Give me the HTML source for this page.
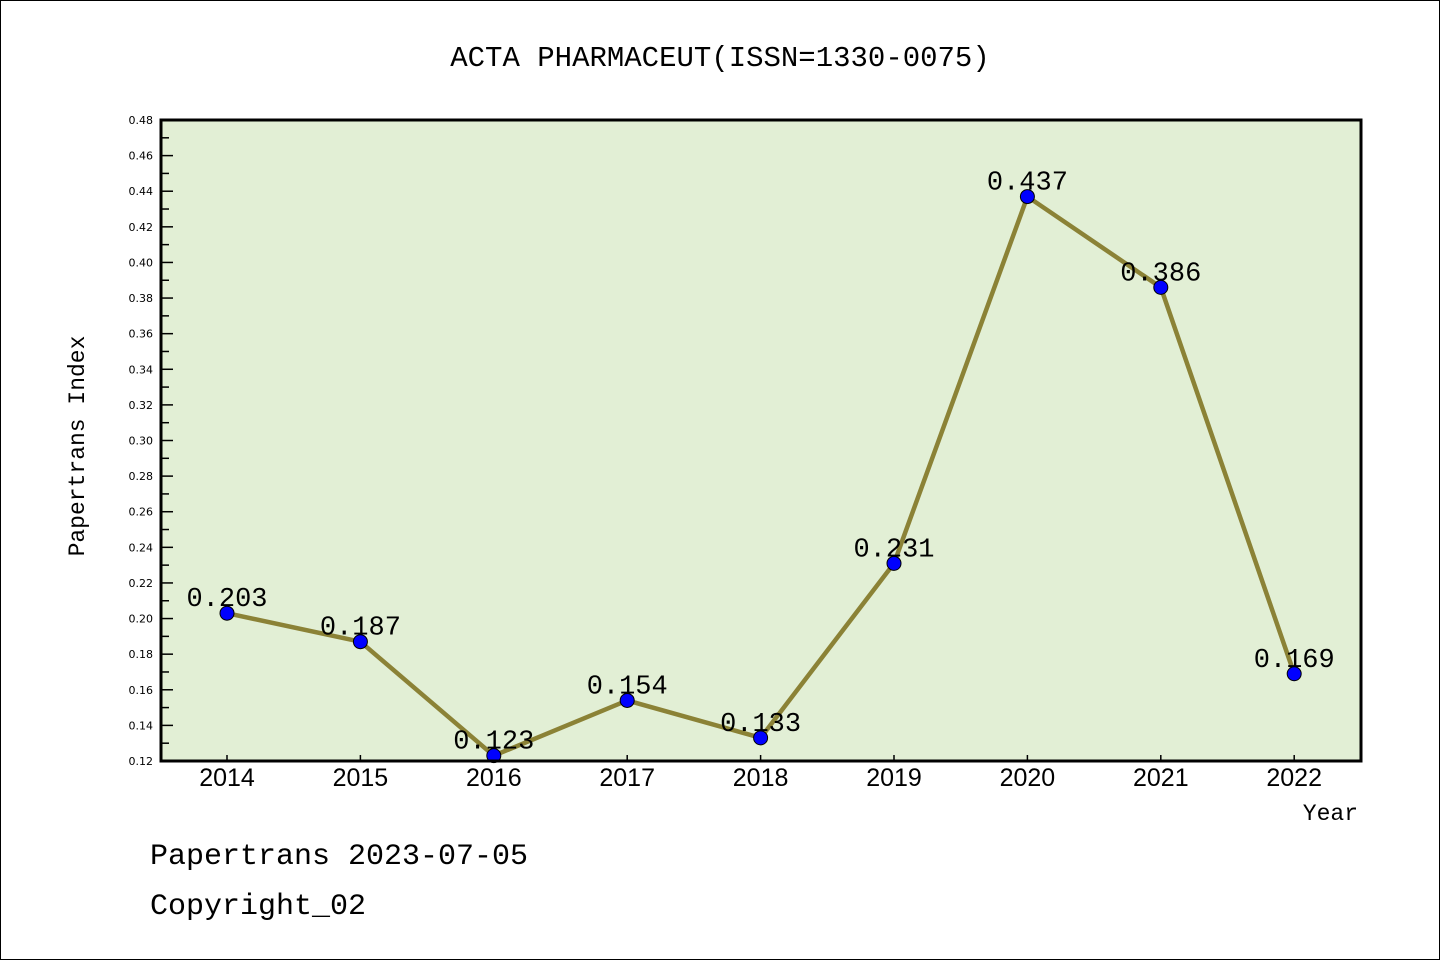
<!DOCTYPE html>
<html><head><meta charset="utf-8"><style>
html,body{margin:0;padding:0;background:#fff}
svg{display:block}
</style></head><body>
<svg id="c" width="1440" height="960" xmlns="http://www.w3.org/2000/svg">
<rect x="0.5" y="0.5" width="1439" height="959" fill="#fff" stroke="#000"/>
<text x="720" y="66" text-anchor="middle" font-family="'Liberation Mono','DejaVu Sans Mono',monospace" font-size="29">ACTA PHARMACEUT(ISSN=1330-0075)</text>
<rect x="161" y="120" width="1200" height="641" fill="#e2efd5"/>
<g id="yt"></g><g id="xt"></g><g id="ser"></g>
<rect x="161" y="120" width="1200" height="641" fill="none" stroke="#000" stroke-width="3"/>
<text transform="translate(84,446) rotate(-90)" text-anchor="middle" font-family="'Liberation Mono','DejaVu Sans Mono',monospace" font-size="23">Papertrans Index</text>
<text x="1358" y="820" text-anchor="end" font-family="'Liberation Mono','DejaVu Sans Mono',monospace" font-size="23">Year</text>
<text x="150" y="864" font-family="'Liberation Mono','DejaVu Sans Mono',monospace" font-size="30">Papertrans 2023-07-05</text>
<text x="150" y="914" font-family="'Liberation Mono','DejaVu Sans Mono',monospace" font-size="30">Copyright_02</text>
</svg>
<script>
const years=["2014","2015","2016","2017","2018","2019","2020","2021","2022"];
const values=[0.203,0.187,0.123,0.154,0.133,0.231,0.437,0.386,0.169];
const valueLabels=["0.203","0.187","0.123","0.154","0.133","0.231","0.437","0.386","0.169"];
const yTicks=["0.12","0.14","0.16","0.18","0.20","0.22","0.24","0.26","0.28","0.30","0.32","0.34","0.36","0.38","0.40","0.42","0.44","0.46","0.48"];
const NS="http://www.w3.org/2000/svg";
const yMin=0.12,yMax=0.48,plotTop=120,plotBot=761;
function ys(v){return plotBot-(v-yMin)/(yMax-yMin)*(plotBot-plotTop);}
function xs(i){return 227+i*133.4;}
function mk(t,a,p){const e=document.createElementNS(NS,t);for(const k in a)e.setAttribute(k,a[k]);p.appendChild(e);return e;}
const yt=document.getElementById('yt'),xt=document.getElementById('xt'),ser=document.getElementById('ser');
yTicks.forEach((t,i)=>{const v=parseFloat(t),y=ys(v);
 const l=mk('line',{x1:161,x2:173,y1:y,y2:y,stroke:'#000','stroke-width':1.5},yt);
 
 
 if(i<yTicks.length-1){const ym=ys(v+0.01);const m=mk('line',{x1:161,x2:169,y1:ym,y2:ym,stroke:'#000','stroke-width':1.5},yt);
 
 }
 const tx=mk('text',{x:153,y:y+4,'text-anchor':'end','font-family':'DejaVu Sans,sans-serif','font-size':11},yt);tx.textContent=t;
 
 
});
years.forEach((yr,i)=>{const x=xs(i);
 const l=mk('line',{x1:x,x2:x,y1:761,y2:755,stroke:'#000','stroke-width':1.5},xt);
 
 
 const tx=mk('text',{x:x,y:786,'text-anchor':'middle','font-family':'Liberation Sans,sans-serif','font-size':25},xt);tx.textContent=yr;
 
 
});
const pl=mk('polyline',{points:values.map((v,i)=>xs(i)+','+ys(v)).join(' '),fill:'none',stroke:'#8b8236','stroke-width':4.5},ser);


values.forEach((v,i)=>{
 const c=mk('circle',{cx:xs(i),cy:ys(v),r:7,fill:'#0000ff',stroke:'#000','stroke-width':1},ser);
 
 
});
values.forEach((v,i)=>{
 const t=mk('text',{x:xs(i),y:ys(v)-7,'text-anchor':'middle','font-family':"'Liberation Mono','DejaVu Sans Mono',monospace",'font-size':27},ser);t.textContent=valueLabels[i];
 
 
});
</script>
</body></html>
